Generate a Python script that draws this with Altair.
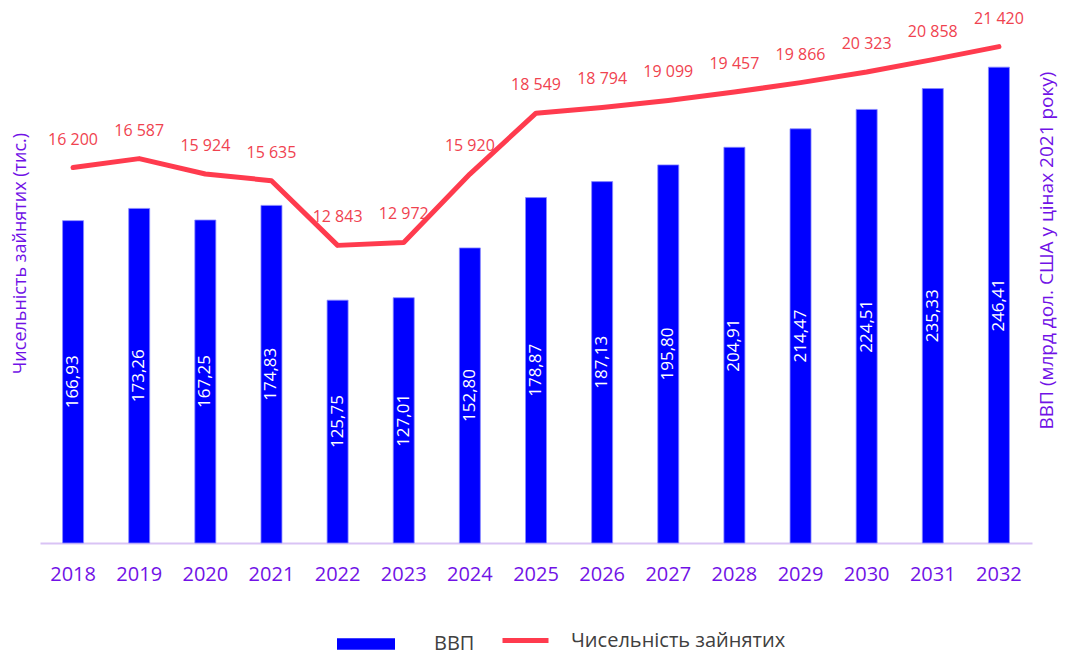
import altair as alt
import pandas as pd

years = [str(y) for y in range(2018, 2033)]
gdp = [166.93, 173.26, 167.25, 174.83, 125.75, 127.01, 152.80, 178.87, 187.13,
       195.80, 204.91, 214.47, 224.51, 235.33, 246.41]
employed = [16200, 16587, 15924, 15635, 12843, 12972, 15920, 18549, 18794,
            19099, 19457, 19866, 20323, 20858, 21420]

df = pd.DataFrame({"year": years, "gdp": gdp, "emp": employed,
                   "s1": "ВВП", "s2": "Чисельність зайнятих"})

PURPLE = "#7112E6"
RED = "#FF3B4E"
BLUE = "#0000FF"
FONT = "Open Sans"

x = alt.X("year:N", title=None, scale=alt.Scale(paddingInner=0.0, paddingOuter=0.0),
          axis=alt.Axis(labelAngle=0, labelColor=PURPLE, labelFontSize=20, labelFont=FONT,
                        tickSize=0, labelPadding=21, domainColor="#D9C3F5", domainWidth=2,
                        grid=False))

gdp_scale = alt.Scale(domain=[0, 276], nice=False, zero=True)
emp_scale = alt.Scale(domain=[0, 23000], nice=False, zero=True)

bars = alt.Chart(df).mark_bar(width=21, stroke="#8A8AFF", strokeWidth=0.8).encode(
    x=x,
    y=alt.Y("gdp:Q", scale=gdp_scale,
            axis=alt.Axis(orient="right", title="ВВП (млрд дол. США у цінах 2021 року)",
                          titleColor=PURPLE, titleFontSize=19, titleFont=FONT,
                          titleFontWeight="normal", labels=False, ticks=False, domain=False,
                          grid=False, titleX=5, titleY=240, titleAngle=270,
                          titleBaseline="top", titleAlign="center")),
    fill=alt.Fill("s1:N", scale=alt.Scale(domain=["ВВП"], range=[BLUE]),
                  legend=alt.Legend(orient="none", legendX=297, legendY=605, title=None,
                                    symbolType="M-1,-0.2H1V0.2H-1Z", symbolSize=3364,
                                    symbolStrokeWidth=0, labelFontSize=20, labelFont=FONT,
                                    labelColor="#404040", labelOffset=39, labelLimit=400)),
)

bar_labels = alt.Chart(df).transform_calculate(
    mid="datum.gdp / 2",
    lbl="replace(format(datum.gdp, '.2f'), '.', ',')"
).mark_text(angle=270, color="white", fontSize=17, font=FONT, baseline="middle",
            align="center").encode(
    x=alt.X("year:N"),
    y=alt.Y("mid:Q", scale=gdp_scale, axis=None),
    text="lbl:N",
)

line = alt.Chart(df).mark_line(strokeWidth=5, strokeCap="round", strokeJoin="round").encode(
    x=alt.X("year:N"),
    y=alt.Y("emp:Q", scale=emp_scale,
            axis=alt.Axis(orient="left", title="Чисельність зайнятих (тис.)",
                          titleColor=PURPLE, titleFontSize=18, titleFont=FONT,
                          titleFontWeight="normal", labels=False, ticks=False, domain=False,
                          grid=False, titleX=-20, titleY=243, titleAngle=270,
                          titleBaseline="middle", titleAlign="center")),
    stroke=alt.Stroke("s2:N", scale=alt.Scale(domain=["Чисельність зайнятих"], range=[RED]),
                      legend=alt.Legend(orient="none", legendX=460, legendY=605, title=None,
                                        symbolType="M-1,0H1", symbolSize=2116,
                                        symbolStrokeWidth=5, labelFontSize=20, labelFont=FONT,
                                        labelColor="#404040", labelOffset=20, labelLimit=400)),
)

line_labels = alt.Chart(df).transform_calculate(
    lbl="replace(format(datum.emp, ','), ',', ' ')"
).mark_text(color="#F0424F", fontSize=16, font=FONT, dy=-28).encode(
    x=alt.X("year:N"),
    y=alt.Y("emp:Q", scale=emp_scale, axis=None),
    text="lbl:N",
)

chart = alt.layer(bars, bar_labels, line, line_labels).resolve_scale(
    y="independent", fill="independent", stroke="independent"
).properties(
    width=992, height=533,
    autosize=alt.AutoSizeParams(type="none"),
    padding={"left": 32, "top": 2, "right": 26, "bottom": 113},
).configure(background="white").configure_view(stroke=None)

chart.save("out.html", embed_options={"renderer": "svg", "actions": False})
